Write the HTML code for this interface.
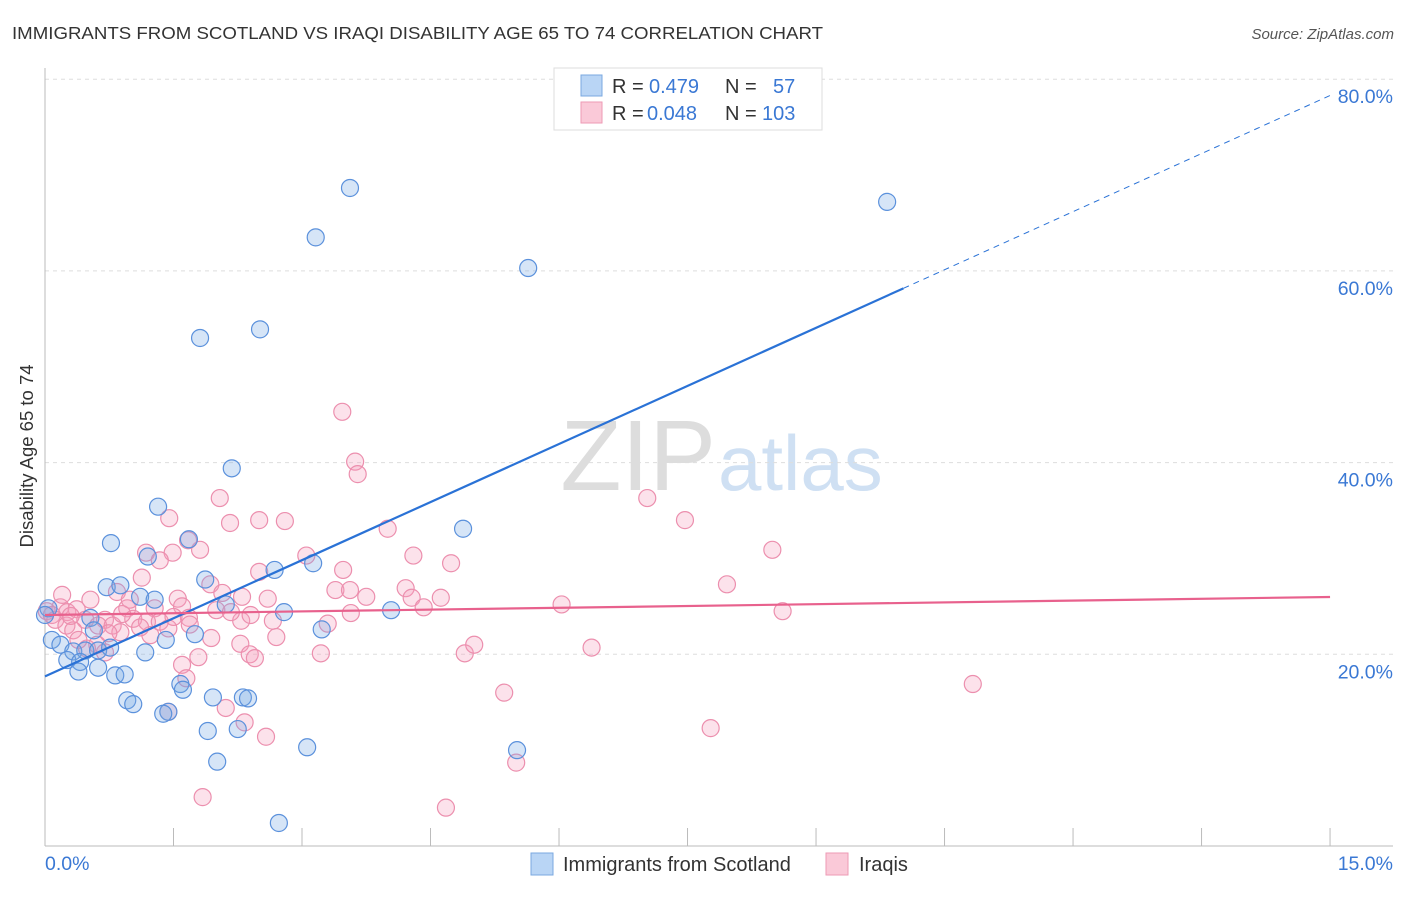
<!DOCTYPE html>
<html><head><meta charset="utf-8"><style>
body{margin:0;background:#fff;font-family:"Liberation Sans",sans-serif;}
svg text{font-family:"Liberation Sans",sans-serif;}
</style></head><body>
<svg id="chart" width="1406" height="892" xmlns="http://www.w3.org/2000/svg">
<text x="12" y="39" font-size="17.5" fill="#333" textLength="811" lengthAdjust="spacingAndGlyphs">IMMIGRANTS FROM SCOTLAND VS IRAQI DISABILITY AGE 65 TO 74 CORRELATION CHART</text>
<text x="1394" y="39" font-size="15" fill="#555" font-style="italic" text-anchor="end">Source: ZipAtlas.com</text>
<text x="716" y="490" font-size="100" fill="#ddd" text-anchor="end" font-family="Liberation Serif">ZIP</text>
<text x="718" y="490" font-size="78" fill="#cfe0f3">atlas</text>
<text transform="translate(33,456) rotate(-90)" font-size="18.5" fill="#333" text-anchor="middle">Disability Age 65 to 74</text>
<g id="grid"></g><g id="marks"></g><g id="lines"></g>
<g>
<rect x="554" y="68" width="268" height="62" fill="#fff" stroke="#ddd"/>
<rect x="581" y="75" width="21" height="21" fill="#b9d5f5" stroke="#7aa8e0"/>
<rect x="581" y="102" width="21" height="21" fill="#fac9d8" stroke="#ee9ab5"/>
<text x="612" y="93" font-size="20" fill="#333">R = <tspan fill="#3a78d4" x="649">0.479</tspan><tspan x="725" fill="#333">N =</tspan><tspan x="773" fill="#3a78d4">57</tspan></text>
<text x="612" y="120" font-size="20" fill="#333">R = <tspan fill="#3a78d4" x="647">0.048</tspan><tspan x="725" fill="#333">N =</tspan><tspan x="762" fill="#3a78d4">103</tspan></text>
</g>
<g>
<rect x="531" y="853" width="22" height="22" fill="#b9d5f5" stroke="#7aa8e0"/>
<text x="563" y="871" font-size="20" fill="#333">Immigrants from Scotland</text>
<rect x="826" y="853" width="22" height="22" fill="#fac9d8" stroke="#ee9ab5"/>
<text x="859" y="871" font-size="20" fill="#333">Iraqis</text>
</g>
</svg>
<script>
const blueX=[3.56,9.83,3.16,5.64,1.81,2.51,2.18,1.32,4.88,0.77,1.68,1.20,0.72,0.88,1.87,2.68,3.13,1.11,1.28,2.11,2.79,4.04,0.04,0.53,3.23,0.57,1.75,1.41,0.08,0.18,0.33,0.47,0.62,0.76,1.17,0.26,0.41,0.62,0.39,0.82,0.93,1.58,1.61,0.96,1.03,1.96,2.31,2.37,1.44,1.38,1.90,2.25,3.06,5.51,2.01,2.73,0];
const blueY=[68.65,67.2,63.5,60.3,53.0,53.9,39.4,35.4,33.1,31.6,32.0,30.2,27.0,27.2,27.8,28.8,29.5,26.0,25.7,25.2,24.4,24.6,24.8,23.8,22.6,22.5,22.1,21.5,21.5,21.0,20.3,20.4,20.4,20.7,20.2,19.4,19.2,18.6,18.2,17.8,17.9,16.9,16.3,15.2,14.8,15.5,15.5,15.4,14.0,13.8,12.0,12.2,10.3,10.0,8.8,2.4,24.1];
const pinkX=[3.47,3.62,3.65,2.04,7.03,1.45,2.16,2.50,2.80,7.47,4.00,8.49,1.18,1.81,1.49,3.05,4.30,4.74,1.13,2.50,3.48,1.93,4.21,7.96,3.39,3.56,3.75,2.07,4.28,4.62,2.60,0.84,1.55,0.96,1.28,1.60,2.00,6.03,8.61,4.42,3.57,0.53,0.18,0.26,0.37,0.02,0.08,0.12,0.47,0.70,1.03,1.19,1.34,1.68,2.29,2.66,0.25,0.33,0.62,0.79,1.44,0.88,2.70,1.23,1.94,2.28,0.61,0.49,0.70,3.22,4.90,5.01,6.38,1.79,2.39,2.45,1.60,1.65,10.83,5.36,2.11,2.33,7.77,2.58,5.50,1.84,4.68,1.69,2.17,0.20,2.30,0.99,0.39,1.11,0.74,1.34,1.67,1.44,0.30,0.90,1.50,2.40,3.30];
const pinkY=[45.3,40.1,38.8,36.3,36.3,34.2,33.7,34.0,33.9,34.0,33.1,30.9,30.6,30.9,30.6,30.3,30.3,29.5,28.0,28.6,28.8,27.3,26.9,27.3,26.7,26.7,26.0,26.4,25.9,25.9,25.8,26.5,25.8,24.8,24.8,25.0,24.6,25.2,24.5,24.9,24.3,25.7,24.9,24.4,24.7,24.5,24.1,23.6,23.6,23.6,23.7,23.4,23.4,23.8,23.5,23.5,23.0,22.5,23.0,23.0,22.7,22.3,21.8,22.0,21.7,21.1,21.0,20.6,20.2,20.1,20.1,21.0,20.7,19.7,20.0,19.6,18.9,17.5,16.9,16.0,14.4,12.9,12.3,11.4,8.7,5.1,4.0,23.1,24.4,26.2,26.0,25.7,21.5,22.8,22.2,29.8,31.9,14.0,24.0,24.2,23.9,24.1,23.2];
const yTicks=[20,40,60,80];
const yTickLabels=["20.0%","40.0%","60.0%","80.0%"];
const xTicks=[0,1.5,3,4.5,6,7.5,9,10.5,12,13.5,15];
const blueLine=[17.7,78.3]; // y at x=0 and x=15
const blueSolidEnd=10.02;
const pinkLine=[24.1,25.98];
const NS="http://www.w3.org/2000/svg";
const X=v=>45+v*85.67, Y=v=>846-v*9.585;
function mk(tag,attrs,parent){const e=document.createElementNS(NS,tag);for(const k in attrs)e.setAttribute(k,attrs[k]);parent.appendChild(e);return e;}
const grid=document.getElementById('grid'),marks=document.getElementById('marks'),lines=document.getElementById('lines');
yTicks.forEach((t,i)=>{
 const g=mk('line',{x1:45,x2:1393,y1:Y(t),y2:Y(t),stroke:'#ddd','stroke-dasharray':'4,4'},grid);
 
 
 const l=mk('text',{x:1393,y:Y(t)+24,'font-size':19.5,fill:'#3a78d4','text-anchor':'end'},grid);
 l.textContent=yTickLabels[i];
 
 
});
const ax=mk('line',{x1:45,x2:45,y1:68,y2:846,stroke:'#bbb'},grid);


const bx=mk('line',{x1:45,x2:1393,y1:846,y2:846,stroke:'#bbb'},grid);


xTicks.forEach(t=>{const k=mk('line',{x1:X(t),x2:X(t),y1:828,y2:846,stroke:'#bbb'},grid);
 
 });
const x0=mk('text',{x:45,y:870,'font-size':19.5,fill:'#3a78d4'},grid);x0.textContent='0.0%';


const x1=mk('text',{x:1393,y:870,'font-size':19.5,fill:'#3a78d4','text-anchor':'end'},grid);x1.textContent='15.0%';


pinkX.forEach((v,i)=>{const c=mk('circle',{cx:X(v),cy:Y(pinkY[i]),r:8.5,fill:'rgba(246,160,190,0.3)',stroke:'#ec8fae','stroke-width':1.2},marks);
 
 });
blueX.forEach((v,i)=>{const c=mk('circle',{cx:X(v),cy:Y(blueY[i]),r:8.5,fill:'rgba(120,170,230,0.3)',stroke:'#5b91dc','stroke-width':1.2},marks);
 
 });
const by=x=>blueLine[0]+(blueLine[1]-blueLine[0])*x/15;
const b1=mk('line',{x1:X(0),y1:Y(by(0)),x2:X(blueSolidEnd),y2:Y(by(blueSolidEnd)),stroke:'#2a72d6','stroke-width':2.2},lines);


const b2=mk('line',{x1:X(blueSolidEnd),y1:Y(by(blueSolidEnd)),x2:X(15),y2:Y(by(15)),stroke:'#2a72d6','stroke-width':1,'stroke-dasharray':'6,5'},lines);


const p1=mk('line',{x1:X(0),y1:Y(pinkLine[0]),x2:X(15),y2:Y(pinkLine[1]),stroke:'#e8618d','stroke-width':2.2},lines);


</script>
</body></html>
